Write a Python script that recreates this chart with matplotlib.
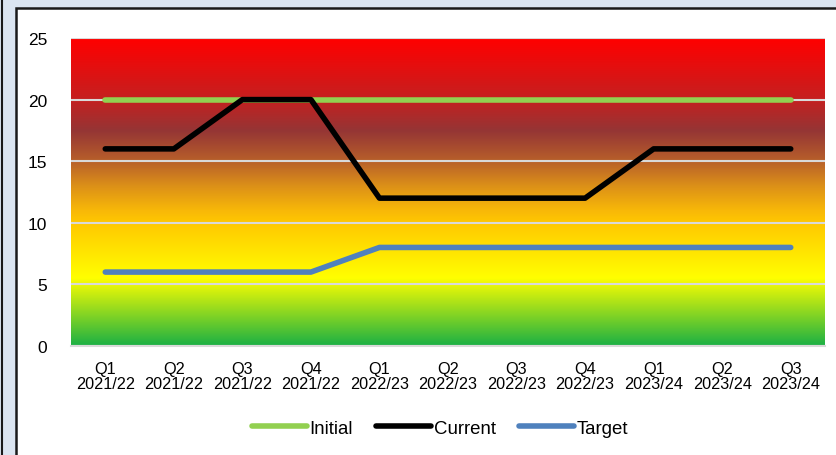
import numpy as np
import matplotlib
matplotlib.use("Agg")
import matplotlib.pyplot as plt
from matplotlib.colors import LinearSegmentedColormap
from matplotlib.patches import Rectangle
from matplotlib.lines import Line2D

plt.rcParams['font.family'] = ['Liberation Sans', 'DejaVu Sans']

quarters = ['Q1\n2021/22', 'Q2\n2021/22', 'Q3\n2021/22', 'Q4\n2021/22',
            'Q1\n2022/23', 'Q2\n2022/23', 'Q3\n2022/23', 'Q4\n2022/23',
            'Q1\n2023/24', 'Q2\n2023/24', 'Q3\n2023/24']
initial = [20, 20, 20, 20, 20, 20, 20, 20, 20, 20, 20]
current = [16, 16, 20, 20, 12, 12, 12, 12, 16, 16, 16]
target = [6, 6, 6, 6, 8, 8, 8, 8, 8, 8, 8]

fig = plt.figure(figsize=(8.36, 4.56), dpi=100)
fig.patch.set_facecolor('#dbe5f1')

# outer frame line and white chart box (behind the axes)
fig.add_artist(Line2D([2/836, 2/836], [0, 1], color='#1a1a1a', lw=1.5, zorder=-10))
fig.add_artist(Rectangle((16/836, -0.1), 1.0, 1 - 9/456 + 0.1, transform=fig.transFigure,
                         facecolor='white', edgecolor='#1a1a1a', lw=1.8, zorder=-10))

ax = fig.add_axes([71/836, (456-347)/456, 754/836, 308/456])
ax.patch.set_alpha(0)
x = np.arange(len(quarters))
ax.set_xlim(-0.5, len(quarters) - 0.5)
ax.set_ylim(0, 25)

# risk gradient background
cmap = LinearSegmentedColormap.from_list('risk', [
    (0.0, '#1cb044'), (0.22, '#ffff00'), (0.40, '#ffc800'), (0.44, '#f8b808'),
    (0.52, '#dc9018'), (0.60, '#b8602a'), (0.70, '#953535'), (0.80, '#c42020'),
    (1.0, '#ff0000')])
grad = np.linspace(0, 1, 512).reshape(-1, 1)
ax.imshow(grad, cmap=cmap, origin='lower', aspect='auto',
          extent=[-0.5, len(quarters) - 0.5, 0, 25], zorder=0)

ax.set_yticks([0, 5, 10, 15, 20, 25])
ax.grid(axis='y', color='#d9d9d9', lw=1.5, zorder=1)
ax.set_axisbelow(False)
for s in ['left', 'right', 'top']:
    ax.spines[s].set_visible(False)
ax.spines['bottom'].set_color('#d9d9d9')
ax.spines['bottom'].set_linewidth(1.5)
ax.tick_params(length=0, labelsize=11.7, colors='black')
ax.tick_params(axis='y', pad=17, labelsize=12.5)
ax.tick_params(axis='x', pad=11)
ax.set_xticks(x)
ax.set_xticklabels(quarters, linespacing=1.0)

ax.plot(x, initial, color='#92d050', lw=4.0, solid_capstyle='round', zorder=3, label='Initial')
ax.plot(x, current, color='black', lw=4.0, solid_capstyle='round', zorder=4, label='Current')
ax.plot(x, target, color='#4f81bd', lw=4.0, solid_capstyle='round', zorder=3, label='Target')

ax.legend(loc='center', bbox_to_anchor=(440/836, (456-429)/456), bbox_transform=fig.transFigure,
          ncol=3, frameon=False, fontsize=13.4, handlelength=2.95, handletextpad=0.16,
          columnspacing=1.24)

fig.savefig('out.png', dpi=100, facecolor=fig.get_facecolor())
